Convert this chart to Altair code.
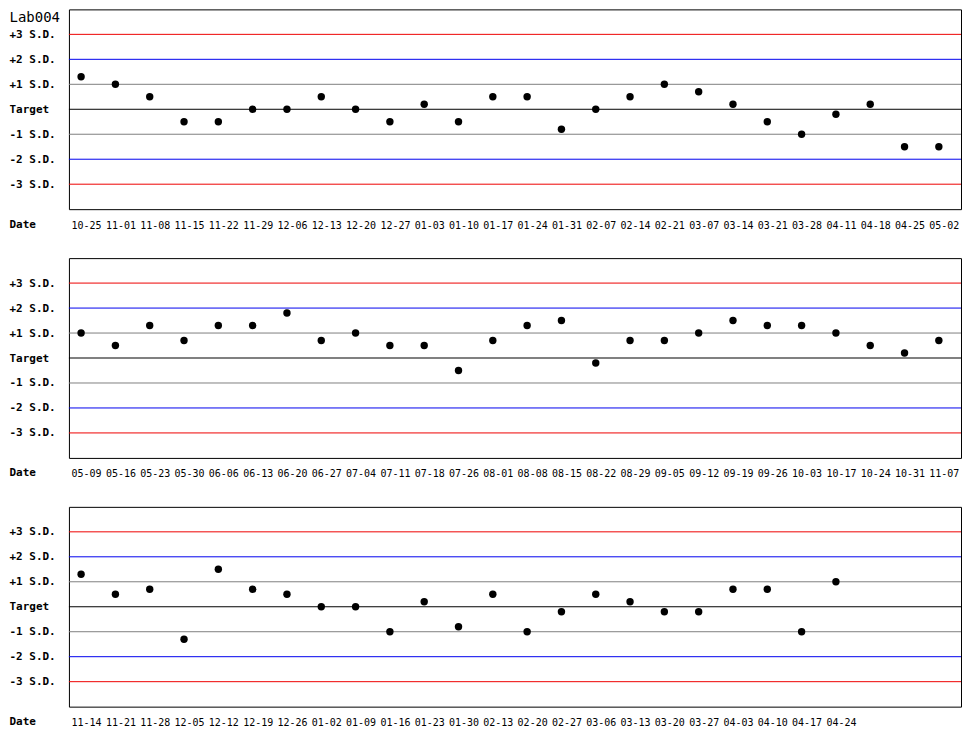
import altair as alt
import pandas as pd

# one row of weekly control values per panel, in S.D. units from target
dates_1 = ["10-25", "11-01", "11-08", "11-15", "11-22", "11-29", "12-06", "12-13",
           "12-20", "12-27", "01-03", "01-10", "01-17", "01-24", "01-31", "02-07",
           "02-14", "02-21", "03-07", "03-14", "03-21", "03-28", "04-11", "04-18",
           "04-25", "05-02"]
sd_1 = [1.3, 1.0, 0.5, -0.5, -0.5, 0.0, 0.0, 0.5, 0.0, -0.5, 0.2, -0.5, 0.5,
        0.5, -0.8, 0.0, 0.5, 1.0, 0.7, 0.2, -0.5, -1.0, -0.2, 0.2, -1.5, -1.5]

dates_2 = ["05-09", "05-16", "05-23", "05-30", "06-06", "06-13", "06-20", "06-27",
           "07-04", "07-11", "07-18", "07-26", "08-01", "08-08", "08-15", "08-22",
           "08-29", "09-05", "09-12", "09-19", "09-26", "10-03", "10-17", "10-24",
           "10-31", "11-07"]
sd_2 = [1.0, 0.5, 1.3, 0.7, 1.3, 1.3, 1.8, 0.7, 1.0, 0.5, 0.5, -0.5, 0.7,
        1.3, 1.5, -0.2, 0.7, 0.7, 1.0, 1.5, 1.3, 1.3, 1.0, 0.5, 0.2, 0.7]

dates_3 = ["11-14", "11-21", "11-28", "12-05", "12-12", "12-19", "12-26", "01-02",
           "01-09", "01-16", "01-23", "01-30", "02-13", "02-20", "02-27", "03-06",
           "03-13", "03-20", "03-27", "04-03", "04-10", "04-17", "04-24"]
sd_3 = [1.3, 0.5, 0.7, -1.3, 1.5, 0.7, 0.5, 0.0, 0.0, -1.0, 0.2, -0.8, 0.5,
        -1.0, -0.2, 0.5, 0.2, -0.2, -0.2, 0.7, 0.7, -1.0, 1.0]

# control limits
levels = [3, 2, 1, 0, -1, -2, -3]
level_colors = ["#ee0000", "#0000ee", "#808080", "#000000", "#808080", "#0000ee", "#ee0000"]

SLOTS = 26
MONO = "DejaVu Sans Mono"
NAME_AT = 3.68  # where the lab name sits on the S.D. axis of the first row

limits = pd.DataFrame({"sd": levels, "color": level_colors})


def panel(dates, sds, name=None):
    pts = pd.DataFrame({"date": dates, "sd": sds})
    # pad the x domain so every row keeps the same week spacing
    domain = dates + [" " * (k + 1) for k in range(SLOTS - len(dates))]

    values = levels if name is None else [NAME_AT] + levels
    is_name = f"datum.value > {NAME_AT - 0.1}"
    y_axis = alt.Axis(
        values=values,
        labelExpr=f"{is_name} ? '{name or ''}' : datum.value == 0 ? 'Target' : "
                  "(datum.value > 0 ? '+' : '-') + abs(datum.value) + ' S.D.'",
        labelAlign="left", labelPadding=60, labelBaseline="middle",
        labelFont=MONO, labelOverlap=False,
        labelFontWeight=alt.condition(is_name, alt.value("normal"), alt.value("bold")),
        labelFontSize=alt.condition(is_name, alt.value(14), alt.value(11)),
        ticks=False, tickSize=0, domain=False, grid=False, title=None,
    )
    x_axis = alt.Axis(
        labelAngle=0, labelFont=MONO, labelFontSize=10, labelPadding=11,
        labelOverlap=False, ticks=False, domain=False, grid=False,
        title="Date", titleX=-60, titleY=15, titleAlign="left",
        titleBaseline="middle", titleFont=MONO, titleFontWeight="bold",
        titleFontSize=11,
    )

    rules = alt.Chart(limits).mark_rule(strokeWidth=1).encode(
        color=alt.Color("color:N", scale=None)
    )
    dots = alt.Chart(pts).mark_circle(
        size=55, color="black", opacity=1, xOffset=-5
    ).encode(
        x=alt.X("date:O", sort=domain,
                scale=alt.Scale(type="point", domain=domain, padding=0.5),
                axis=x_axis)
    )

    return alt.layer(rules, dots).encode(
        y=alt.Y("sd:Q", scale=alt.Scale(domain=[-4, 4], nice=False, zero=False),
                axis=y_axis)
    ).properties(width=893, height=200)


chart = alt.vconcat(
    panel(dates_1, sd_1, "Lab004"),
    panel(dates_2, sd_2),
    panel(dates_3, sd_3),
    spacing=26,
).properties(
    padding={"left": 0, "top": 0, "right": 0, "bottom": 2}
).configure_view(
    stroke="black", strokeWidth=1
).configure_axis(
    labelColor="black", titleColor="black"
)

chart.save("out.html", embed_options={"renderer": "svg", "actions": False})
